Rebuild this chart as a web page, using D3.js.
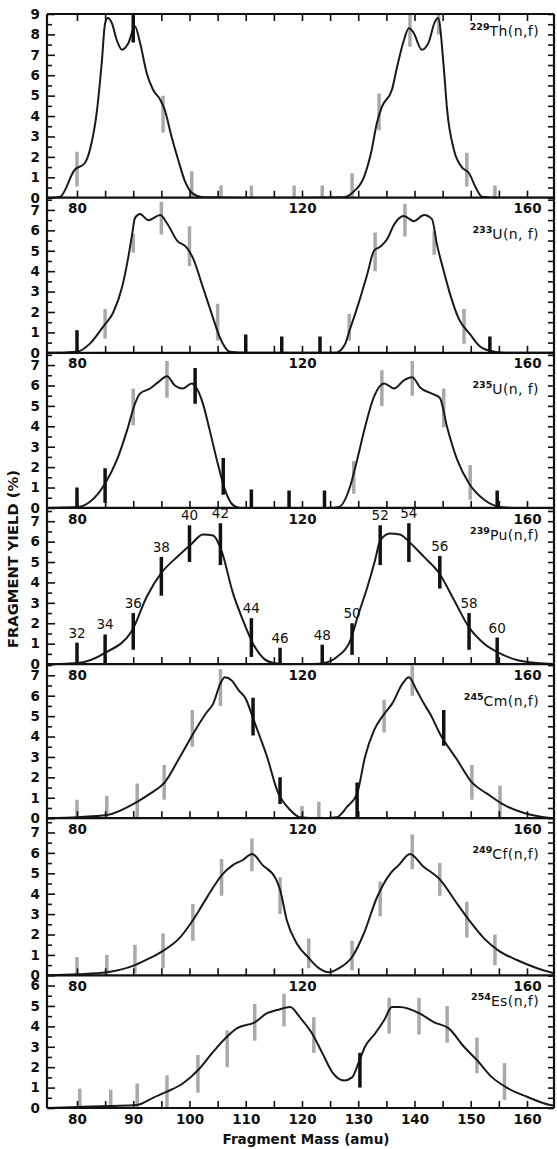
<!DOCTYPE html>
<html>
<head>
<meta charset="utf-8">
<script src="https://cdn.jsdelivr.net/npm/d3@7"></script>
<style>
  body { margin: 0; background: #fff; }
  svg { display: block; }
  text { font-family: "DejaVu Sans", "Liberation Sans", sans-serif; fill: #111; }
</style>
</head>
<body>
<svg width="557" height="1149"></svg>
<script>
// ---- data ----
const massDomain = [74.67, 164.8];
const isotopes = ["229", "233", "235", "239", "245", "249", "254"];
const reactions = ["Th(n,f)", "U(n, f)", "U(n, f)", "Pu(n,f)", "Cm(n,f)", "Cf(n,f)", "Es(n,f)"];
const yMax = [9, 7.6, 7.6, 7.65, 7.55, 7.7, 6.5];

const th229 = [[74.67,0],[75.5,0],[77,0.05],[79.6,1.37],[81.4,1.7],[82.3,2.35],[83.5,4.15],[84.4,6.6],[85,8.55],[85.5,8.8],[86.2,8.55],[87.1,7.7],[88,7.25],[89.1,7.55],[90.3,8.4],[91.2,7.6],[92.4,6.1],[93.5,5.3],[94.8,4.8],[95.6,4.3],[96.8,3.0],[98,1.85],[99.2,0.8],[100.6,0.2],[102.4,0.02],[110,0],[120,0],[127.5,0.02],[129.2,0.3],[131,1.0],[132.4,2.35],[133.3,3.65],[134.2,4.45],[136,5.3],[136.9,6.4],[138.1,7.7],[139,8.3],[139.8,8.1],[141.3,7.25],[142.5,7.6],[143.6,8.6],[144.2,8.8],[145.2,6.4],[145.8,4.3],[147,2.35],[148.4,1.5],[149.7,1.2],[150.8,0.55],[152,0.05],[155,0],[164.8,0]];
const u233 = [[74.67,0],[78,0.02],[80,0.05],[82.3,0.45],[84.7,1.3],[86.4,1.95],[88,3.2],[89.1,4.65],[89.8,5.8],[90.3,6.6],[91.2,6.8],[92.7,6.5],[94.8,6.75],[96,6.35],[97.8,5.5],[99.5,5.15],[100.6,4.65],[102.4,3.2],[104.2,1.7],[105.4,0.75],[107.2,0.05],[110,0],[125.9,0],[127.6,0.4],[128.4,1.05],[129.8,2.2],[131.6,3.85],[132.8,5.0],[133.9,5.2],[135.1,5.55],[136.4,6.3],[138.1,6.7],[139.9,6.45],[141.7,6.75],[143.1,6.55],[144,5.3],[145.2,4.0],[146.3,2.9],[147.9,1.65],[149.9,0.9],[151.5,0.35],[153.4,0.1],[156,0],[164.8,0]];
const u235 = [[74.67,0],[78,0.02],[80.2,0.05],[82.3,0.3],[85,1.2],[87.1,2.35],[88.9,3.8],[90.3,5.1],[91.2,5.6],[93,5.85],[94.4,6.15],[96,6.45],[97.4,6.0],[98.8,5.85],[100.4,6.1],[101.3,5.85],[102.4,5.1],[103.6,3.8],[105,2.2],[106.3,0.9],[107.7,0.15],[109,0],[125,0],[126.6,0.05],[128.5,1.0],[129.8,2.35],[131.2,3.95],[132.8,5.45],[134.6,6.1],[136.4,5.85],[138.1,6.25],[139.6,6.4],[141,5.9],[143.1,5.6],[144.5,5.4],[145.8,3.95],[147.6,2.35],[149.7,1.2],[152.4,0.4],[155.2,0.05],[158,0],[164.8,0]];
const pu239 = [[74.67,0],[78,0.02],[80.2,0.05],[85,0.55],[89.8,1.65],[92.4,3.3],[95.1,4.5],[97.8,5.25],[100.4,5.9],[102.4,6.35],[104.2,6.3],[105.7,5.55],[107.7,3.5],[109.5,2.15],[111.3,1.0],[113.1,0.3],[114.9,0.05],[117,0],[122,0],[123.9,0.05],[126.2,0.35],[128.5,1.1],[130.1,2.5],[131.6,3.75],[133,5.1],[133.9,6.05],[135.6,6.4],[137.4,6.35],[139.2,5.95],[141.7,5.25],[144.4,4.45],[147,3.15],[149.7,1.8],[152.4,1.0],[155,0.55],[158.2,0.2],[161.8,0.05],[164.8,0]];
const cm245 = [[74.67,0],[80.2,0.05],[85.3,0.15],[90.7,0.8],[93,1.2],[95.6,1.75],[98.3,3.0],[101,4.3],[103.1,5.2],[104.2,5.6],[105.5,6.6],[106.3,6.9],[107.5,6.75],[108.8,6.25],[110,5.85],[111.3,4.9],[112.5,4.0],[113.8,3.0],[115.6,1.35],[117.9,0.4],[119.6,0.05],[123,0],[126.2,0.05],[128,0.55],[129.8,1.2],[131.2,3.0],[132.8,4.3],[134.6,5.1],[136,5.6],[137.9,6.6],[139,6.9],[140.4,6.25],[141.7,5.6],[142.8,5.1],[144.5,4.15],[147.6,2.85],[150.2,1.75],[152.9,1.2],[155.6,0.7],[159.5,0.25],[163,0.05],[164.8,0]];
const cf249 = [[74.67,0],[80.2,0.05],[85.3,0.15],[90.3,0.5],[93,0.85],[95.3,1.2],[98.3,1.85],[100.6,2.7],[102.4,3.5],[104.2,4.3],[105.7,4.9],[107.7,5.4],[109.5,5.65],[111.1,5.95],[113,5.4],[115.3,4.75],[116.1,4.2],[117.3,2.7],[119.1,1.55],[121.2,0.85],[123,0.35],[124.8,0.15],[126.6,0.35],[128.9,0.9],[131,2.05],[133.3,3.8],[135.6,4.95],[137.2,5.4],[139.2,5.95],[141.5,5.35],[144.5,4.7],[147.6,3.5],[149.7,2.7],[152.4,1.8],[155,1.2],[158.2,0.75],[161.8,0.35],[164.8,0.1]];
const es254 = [[74.67,0],[80.2,0.05],[85.9,0.1],[90.7,0.15],[93.5,0.5],[96,0.8],[98.8,1.2],[101.5,1.85],[104.2,2.75],[106.7,3.5],[108.4,3.9],[111.6,4.2],[113.8,4.65],[115.6,4.8],[117.9,4.95],[119.6,4.45],[121.8,3.65],[123.6,2.7],[125.4,1.75],[127.5,1.35],[128.9,1.5],[130.1,2.25],[131.2,3.0],[133,3.65],[134.6,4.3],[136,4.95],[137.4,4.95],[140.8,4.65],[143.5,4.2],[146.1,3.9],[148.8,3.0],[151.1,2.35],[153.8,1.5],[156.4,1.0],[160,0.55],[164.1,0.15],[164.8,0.12]];

// error bars: [mass, low, high]
const th229Gray = [[80,0.55,2.25],[95.3,3.2,5.0],[100.4,0,1.3],[105.6,0,0.6],[111,0,0.6],[118.6,0,0.6],[123.6,0,0.6],[128.9,0,1.2],[133.7,3.3,5.1],[139.2,7.4,9],[144.3,8.0,9],[149.3,0.55,2.2],[154.3,0,0.6]];
const th229Dark = [[90,7.6,9]];
const u233Gray = [[85,0.7,2.15],[90,4.9,5.85],[95,5.8,7.4],[100,4.25,6.2],[105,0.6,2.4],[128.4,0.6,1.9],[133,4.0,5.9],[138.3,5.7,7.3],[143.5,4.8,5.95],[148.8,0.45,2.15]];
const u233Dark = [[80,0,1.1],[110,0,0.9],[116.4,0,0.8],[123.2,0,0.8],[153.4,0,0.8]];
const u235Gray = [[90,4.05,5.85],[96,5.4,7.2],[129.2,0.7,2.3],[134.2,5.0,6.75],[139.6,5.5,7.2],[145.2,3.95,5.85],[149.9,0.4,2.1]];
const u235Dark = [[80,0,1.0],[85,0.25,1.95],[101,5.1,6.85],[106,0.65,2.45],[111,0,0.9],[117.7,0,0.85],[124,0,0.85],[154.7,0,0.85]];
const pu239Dark = [[80,0,1.05],[85,0,1.45],[90,0.7,2.5],[95,3.35,5.25],[100,5.0,6.8],[105.5,4.85,6.9],[111,0.35,2.25],[116.1,0,0.8],[123.6,0,0.95],[128.9,0.45,2.0],[133.9,4.85,6.8],[139,5.0,6.9],[144.5,3.7,5.3],[149.7,0.7,2.5],[154.7,0,1.3]];
const puChains = [32,34,36,38,40,42,44,46,48,50,52,54,56,58,60];
const cm245Gray = [[80,0,0.9],[85.3,0,1.1],[90.7,0,1.7],[95.5,0.9,2.6],[100.5,3.5,5.3],[105.5,5.5,7.3],[120,0,0.6],[123,0,0.8],[134.6,4.2,5.8],[139.6,6.0,7.5],[150.2,0.9,2.6],[155.2,0,1.6]];
const cm245Dark = [[111.3,4.05,5.9],[116.1,0.7,2.0],[129.8,0,1.75],[145.2,3.55,5.3]];
const cf249Gray = [[80,0,0.9],[85.3,0,1.0],[90.3,0.1,1.5],[95.3,0.35,2.05],[100.6,1.7,3.5],[105.7,3.9,5.7],[111.1,5.1,6.7],[116.1,3.0,4.8],[121.2,0.35,1.8],[128.9,0.25,1.7],[133.9,2.9,4.6],[139.6,5.2,6.9],[144.5,3.9,5.5],[149.3,1.85,3.6],[154.3,0.5,2.0]];
const cf249Dark = [];
const es254Gray = [[80.5,0,0.95],[86,0,0.9],[90.7,0,1.2],[96,0,1.6],[101.5,0.75,2.6],[106.7,2.0,3.8],[111.6,3.3,5.1],[116.8,4.0,5.6],[122.1,2.7,4.45],[135.5,3.65,5.4],[140.8,3.6,5.4],[145.8,3.2,5.0],[151.1,1.7,3.45],[156,0.4,2.2]];
const es254Dark = [[130.3,1.0,2.7]];

const curves = [th229, u233, u235, pu239, cm245, cf249, es254];
const grayBars = [th229Gray, u233Gray, u235Gray, [], cm245Gray, cf249Gray, es254Gray];
const darkBars = [th229Dark, u233Dark, u235Dark, pu239Dark, cm245Dark, cf249Dark, es254Dark];

const innerLabels = [80, 120, 160];
const bottomLabels = d3.range(80, 161, 10);

// ---- layout ----
const svg = d3.select("svg");
const frameL = 47, frameR = 554, frameT = 14, frameB = 1108;
const titleDy = [22, 41, 41, 32, 42, 41, 31];
const unit = (frameB - frameT) / d3.sum(yMax);

const x = d3.scaleLinear().domain(massDomain).range([frameL, frameR]);

const line = d3.line()
  .x(d => x(d[0]))
  .curve(d3.curveMonotoneX);

let y0 = frameT;
curves.forEach((data, i) => {
  const h = yMax[i] * unit;
  const y = d3.scaleLinear().domain([0, yMax[i]]).range([h, 0]);
  const g = svg.append("g").attr("transform", `translate(0,${y0})`);
  const last = i === curves.length - 1;

  g.append("clipPath").attr("id", `clip${i}`)
    .append("rect").attr("x", frameL).attr("y", 0).attr("width", frameR - frameL).attr("height", h);

  const plot = g.append("g").attr("clip-path", `url(#clip${i})`);

  plot.selectAll(".gbar").data(grayBars[i]).enter().append("line")
    .attr("x1", d => x(d[0])).attr("x2", d => x(d[0]))
    .attr("y1", d => y(d[1])).attr("y2", d => y(d[2]))
    .attr("stroke", "#a9a9a9").attr("stroke-width", 3.5);

  plot.append("path")
    .attr("d", line.y(d => y(d[1]))(data))
    .attr("fill", "none").attr("stroke", "#1a1a1a").attr("stroke-width", 2);

  plot.selectAll(".dbar").data(darkBars[i]).enter().append("line")
    .attr("x1", d => x(d[0])).attr("x2", d => x(d[0]))
    .attr("y1", d => y(d[1])).attr("y2", d => y(d[2]))
    .attr("stroke", "#111").attr("stroke-width", 3.5);

  if (i === 3) {
    g.selectAll(".chain").data(darkBars[i]).enter().append("text")
      .attr("x", d => x(d[0])).attr("y", d => y(d[2]) - 5)
      .attr("text-anchor", "middle").attr("font-size", 13.5)
      .text((d, k) => puChains[k]);
  }

  // x ticks on the panel's lower edge
  g.append("g").attr("transform", `translate(0,${h})`)
    .call(d3.axisBottom(x).tickValues(d3.range(80, 161, 5)).tickSize(-7).tickPadding(6)
      .tickFormat(d => (last ? bottomLabels : innerLabels).includes(d) ? d : ""));
  if (i === 0) {
    g.append("g").call(d3.axisTop(x).tickValues(d3.range(80, 161, 5)).tickSize(-7).tickFormat(""));
  }

  // y ticks
  g.append("g").attr("transform", `translate(${frameL},0)`)
    .call(d3.axisLeft(y).tickValues(d3.range(0, Math.floor(yMax[i]) + 1))
      .tickFormat(d3.format("d")).tickSize(-8).tickPadding(7));
  g.append("g").attr("transform", `translate(${frameL},0)`)
    .call(d3.axisLeft(y).tickValues(d3.range(0.5, yMax[i], 1)).tickSize(-5).tickFormat(""));
  g.append("g").attr("transform", `translate(${frameR},0)`)
    .call(d3.axisRight(y).tickValues(d3.range(0, yMax[i] + 0.01, 0.5)).tickSize(-6).tickFormat(""));

  g.selectAll(".domain").remove();
  g.selectAll(".tick line").attr("stroke", "#111").attr("stroke-width", 1.6);
  g.selectAll(".tick text").attr("font-size", 13.5).attr("font-weight", "bold")
    .attr("font-family", "DejaVu Sans, sans-serif").attr("fill", "#111");

  // title
  const t = g.append("text").attr("x", 539).attr("y", titleDy[i]).attr("text-anchor", "end");
  t.append("tspan").attr("font-size", 9.5).attr("font-weight", "bold").attr("dy", -6).text(isotopes[i]);
  t.append("tspan").attr("font-size", 14).attr("letter-spacing", 0.4).attr("dy", 6).text(reactions[i]);

  // panel lower edge
  g.append("line").attr("x1", frameL).attr("x2", frameR).attr("y1", h).attr("y2", h)
    .attr("stroke", "#111").attr("stroke-width", 2.2);

  y0 += h;
});

// outer frame
svg.append("line").attr("x1", frameL).attr("x2", frameR).attr("y1", frameT).attr("y2", frameT)
  .attr("stroke", "#111").attr("stroke-width", 2.2);
svg.append("line").attr("x1", frameL).attr("x2", frameL).attr("y1", frameT).attr("y2", frameB)
  .attr("stroke", "#111").attr("stroke-width", 2.2);
svg.append("line").attr("x1", frameR).attr("x2", frameR).attr("y1", frameT).attr("y2", frameB)
  .attr("stroke", "#111").attr("stroke-width", 2.2);

svg.append("text")
  .attr("transform", "translate(18,559) rotate(-90)")
  .attr("text-anchor", "middle").attr("font-size", 14).attr("font-weight", "bold")
  .attr("textLength", 178).attr("lengthAdjust", "spacingAndGlyphs")
  .text("FRAGMENT YIELD (%)");

svg.append("text")
  .attr("x", 306).attr("y", 1144)
  .attr("text-anchor", "middle").attr("font-size", 14).attr("font-weight", "bold")
  .attr("textLength", 167).attr("lengthAdjust", "spacingAndGlyphs")
  .text("Fragment Mass (amu)");
</script>
</body>
</html>
